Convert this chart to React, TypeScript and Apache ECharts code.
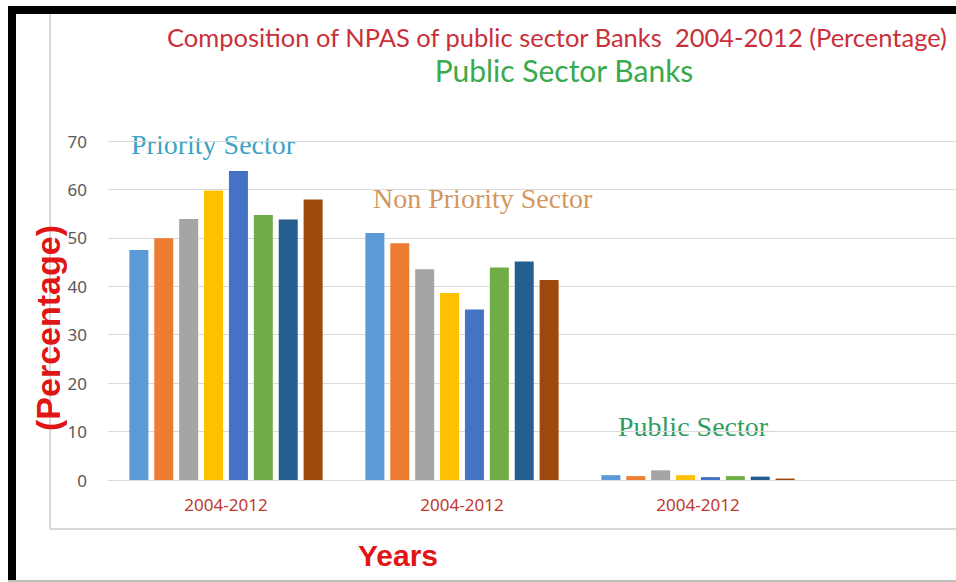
import React, { useEffect, useRef } from "react";
import * as echarts from "echarts";

const categories = ["2004-2012", "2004-2012", "2004-2012", ""];
const seriesNames = ["2005", "2006", "2007", "2008", "2009", "2010", "2011", "2012"];
const prioritySector = [47.5, 49.9, 53.9, 59.8, 63.8, 54.7, 53.8, 57.9];
const nonPrioritySector = [51.0, 48.9, 43.5, 38.6, 35.2, 43.9, 45.1, 41.3];
const publicSector = [1.0, 0.8, 2.0, 1.0, 0.6, 0.8, 0.7, 0.3];
const barColors = ["#5B9BD5", "#ED7D31", "#A5A5A5", "#FFC000", "#4472C4", "#70AD47", "#255E91", "#9E480E"];
const yTicks = { min: 0, max: 70, interval: 10 };

export default function App() {
  const ref = useRef<HTMLDivElement>(null);
  useEffect(() => {
    document.body.style.margin = "0";
    const chart = echarts.init(ref.current!, null, { renderer: "svg" });
    const series = seriesNames.map((name, i) => ({
      name,
      type: "bar",
      data: [prioritySector[i], nonPrioritySector[i], publicSector[i], null],
      barWidth: 19,
      barGap: "31%",
      itemStyle: { color: barColors[i] },
      z: 3,
    }));
    chart.setOption({
      animation: false,
      backgroundColor: "#ffffff",
      grid: { left: 108, top: 141, width: 944, height: 339, containLabel: false },
      xAxis: {
        type: "category",
        data: categories,
        axisLine: { show: true, lineStyle: { color: "#D9D9D9", width: 1 } },
        axisTick: { show: false },
        axisLabel: { color: "#C0392B", fontSize: 17, fontFamily: "Noto Sans", margin: 16, interval: 0 },
      },
      yAxis: {
        type: "value",
        min: yTicks.min,
        max: yTicks.max,
        interval: yTicks.interval,
        axisLine: { show: false },
        axisTick: { show: false },
        splitLine: { lineStyle: { color: "#D9D9D9", width: 1 } },
        axisLabel: { color: "#595959", fontSize: 17, fontFamily: "Noto Sans", margin: 21 },
      },
      series,
      graphic: [
        { type: "rect", shape: { x: 8, y: 6, width: 8, height: 576 }, style: { fill: "#000" }, z: 10 },
        { type: "rect", shape: { x: 8, y: 6, width: 1052, height: 8 }, style: { fill: "#000" }, z: 10 },
        { type: "line", shape: { x1: 8, y1: 581, x2: 1060, y2: 581 }, style: { stroke: "#BFBFBF", lineWidth: 2 }, z: 10 },
        { type: "line", shape: { x1: 50, y1: 14, x2: 50, y2: 529 }, style: { stroke: "#D9D9D9", lineWidth: 2 } },
        { type: "line", shape: { x1: 50, y1: 529, x2: 1060, y2: 529 }, style: { stroke: "#D9D9D9", lineWidth: 2 } },
        {
          type: "text", x: 167, y: 37,
          style: { text: "Composition of NPAS of public sector Banks  2004-2012 (Percentage)", fill: "#C9303A", fontSize: 25.5, fontFamily: "Lato", verticalAlign: "middle", align: "left" },
        },
        {
          type: "text", x: 564, y: 70,
          style: { text: "Public Sector Banks", fill: "#3AAA4E", fontSize: 30, fontFamily: "Lato", verticalAlign: "middle", align: "center" },
        },
        {
          type: "text", x: 131, y: 144,
          style: { text: "Priority Sector", fill: "#3AA3C6", fontSize: 28, fontFamily: "Liberation Serif", verticalAlign: "middle", align: "left" },
        },
        {
          type: "text", x: 373, y: 198,
          style: { text: "Non Priority Sector", fill: "#D4975F", fontSize: 28, fontFamily: "Liberation Serif", verticalAlign: "middle", align: "left" },
        },
        {
          type: "text", x: 618, y: 426,
          style: { text: "Public Sector", fill: "#2E9E60", fontSize: 28, fontFamily: "Liberation Serif", verticalAlign: "middle", align: "left" },
        },
        {
          type: "text", x: 48, y: 328, rotation: Math.PI / 2,
          style: { text: "(Percentage)", fill: "#E01515", fontSize: 34, fontWeight: 900, fontFamily: "Liberation Sans", verticalAlign: "middle", align: "center" },
        },
        {
          type: "text", x: 398, y: 555,
          style: { text: "Years", fill: "#E01515", fontSize: 30, fontWeight: 900, fontFamily: "Liberation Sans", verticalAlign: "middle", align: "center" },
        },
      ],
    });
    return () => chart.dispose();
  }, []);
  return (
    <div style={{ width: 956, height: 582, overflow: "hidden", position: "relative", background: "#fff" }}>
      <div ref={ref} style={{ width: 1060, height: 582, background: "#fff" }} />
    </div>
  );
}
